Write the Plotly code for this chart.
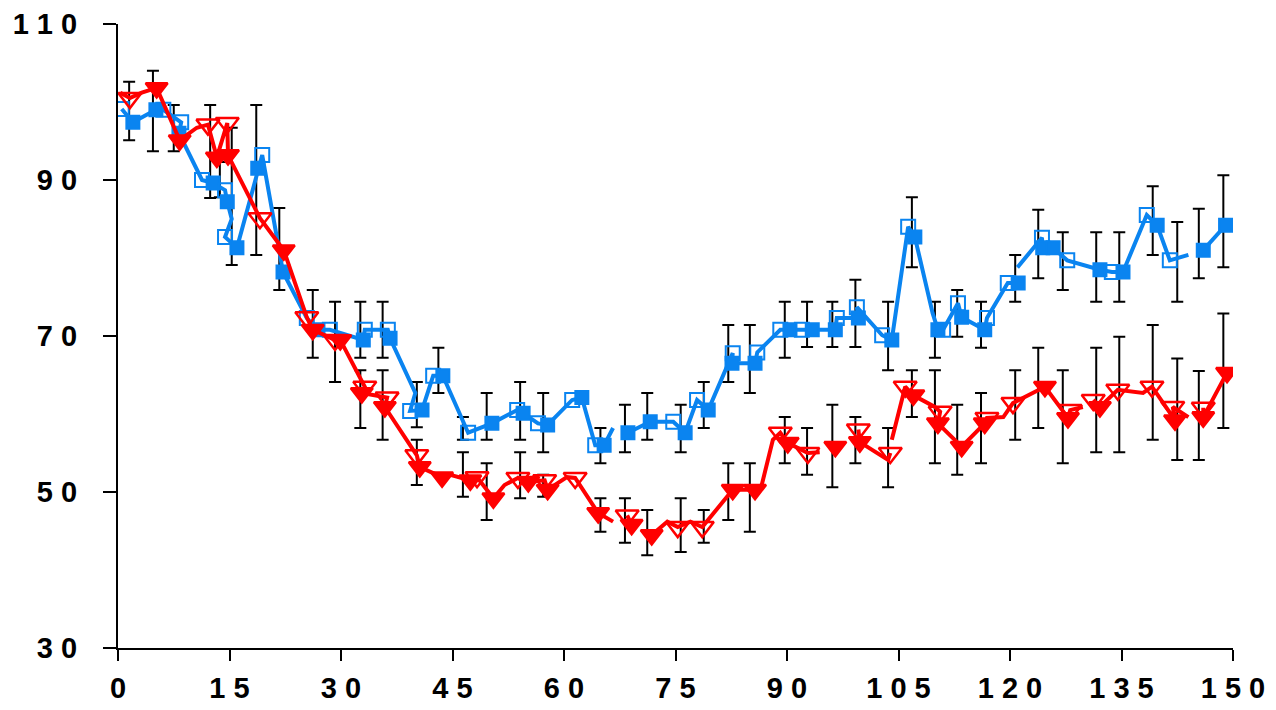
import plotly.graph_objects as go

# ---- Blue series (squares): x, y, kind (F=filled, O=open, ''=line vertex, None=gap)
blue_x = [0.5, 2.0, 5.1, 6.1, 8.5, 8.2, 11.3, 12.8, 14.4, 14.7, 15.3, 14.4, 16.0, 18.8, 19.4,
          22.2, 25.4, 26.9, 28.5, 33.0, 33.2, 36.3, 36.6, 40.0, 39.3, 40.9, 42.4, 43.7, 47.1,
          50.3, 53.7, 54.5, 56.5, 57.8, 61.1, 62.4, 64.2, 65.4, 66.6, None,
          68.6, 71.6, 74.7, 76.3, 77.9, 79.4, 82.7, 82.6, 85.7, 86.0, 89.1, 90.4, 92.0, 93.4,
          96.5, 96.7, 99.6, 99.4, 102.8, 104.1, 106.3, 107.2, 109.6, 110.3, 111.0, 113.0, 113.5,
          116.6, 116.9, 119.7, 121.1, None,
          121.0, 124.3, 124.4, 125.8, 127.7, 132.1, 133.7, 135.2, 138.4, 139.8, 141.5, 144.0, None,
          146.0, 149.0]
blue_y = [99.1, 97.4, 99.0, 99.0, 97.4, 96.0, 90.0, 89.6, 88.7, 87.2, 85.0, 82.7, 81.3, 91.5, 93.2,
          78.2, 72.3, 70.8, 70.8, 69.5, 70.8, 70.8, 69.7, 62.7, 60.4, 60.5, 64.9, 64.9, 57.6,
          58.8, 60.5, 60.1, 58.8, 58.6, 61.8, 62.1, 56.0, 56.0, 58.2, None,
          57.6, 59.0, 59.0, 57.6, 61.8, 60.5, 67.8, 66.5, 66.5, 67.9, 70.8, 70.8, 70.8, 70.8,
          70.8, 72.3, 72.3, 73.7, 70.1, 69.5, 84.0, 82.7, 72.9, 70.8, 70.8, 74.2, 72.4,
          70.8, 72.3, 76.8, 76.8, None,
          78.8, 82.6, 81.3, 81.3, 79.7, 78.5, 78.2, 78.2, 85.5, 84.2, 79.7, 80.4, None,
          81.0, 84.2]
blue_kind = ["O", "F", "F", "O", "O", "F", "O", "F", "O", "F", "", "O", "F", "F", "O",
             "F", "O", "F", "O", "F", "O", "O", "F", "", "O", "F", "O", "F", "O",
             "F", "O", "F", "O", "F", "O", "F", "O", "F", "", None,
             "F", "F", "O", "F", "O", "F", "O", "F", "F", "O", "O", "F", "O", "F",
             "F", "O", "F", "O", "O", "F", "O", "F", "", "F", "O", "O", "F",
             "F", "O", "O", "F", None,
             "", "O", "F", "F", "O", "F", "O", "F", "O", "F", "O", "", None,
             "F", "F"]

# ---- Red series (down triangles)
red_x = [0.3, 1.6, 3.2, 5.2, 8.3, 10.6, 12.1, 13.3, 14.7, 14.8, 19.1, 22.3, 25.4, 26.2, 29.2,
         29.9, 33.2, 32.8, 36.2, 35.9, 40.2, 40.6, 43.6, None,
         44.7, 47.4, 48.3, 50.5, 52.0, 53.8, 55.2, 57.4, 57.8, 60.4, 61.5, 64.6, 66.6, None,
         68.5, 69.1, None,
         71.8, 73.9, 75.3, 77.0, 78.6, 82.7, 85.7, 86.6, 88.1, 89.1, 90.1, 92.8, 94.4, None,
         96.5, None,
         99.6, 99.8, 103.6, 103.9, None,
         104.1, 105.2, 105.9, 107.0, 109.9, 110.6, 110.3, 113.5, 116.6, 116.9, 119.1, 120.4,
         124.7, 127.8, 128.1, 129.8, None,
         131.2, 132.1, 134.5, 137.9, 139.1, 142.2, 141.9, 144.0, None,
         146.0, 146.0, 149.2]
red_y = [101.2, 100.5, 101.2, 101.8, 95.1, 96.7, 97.1, 92.9, 97.3, 93.2, 85.1, 81.0, 72.4, 70.8, 69.5,
         69.5, 63.5, 62.7, 62.1, 60.9, 54.7, 53.2, 51.9, None,
         52.2, 51.5, 51.9, 49.2, 50.9, 51.8, 51.3, 51.5, 50.3, 51.9, 51.8, 47.3, 46.2, None,
         47.0, 45.8, None,
         44.5, 46.2, 45.5, 46.2, 45.5, 50.3, 50.3, 50.9, 56.7, 57.6, 56.3, 55.0, 55.1, None,
         55.8, None,
         58.0, 56.4, 54.1, 55.0, None,
         56.7, 60.9, 63.5, 62.4, 60.9, 60.3, 58.8, 55.8, 58.8, 59.5, 59.6, 61.4,
         63.5, 59.5, 60.5, 60.9, None,
         61.8, 60.9, 63.1, 62.7, 63.5, 59.2, 60.9, 59.6, None,
         60.8, 59.6, 65.3]
red_kind = ["", "O", "", "F", "F", "", "O", "F", "O", "F", "O", "F", "O", "F", "O",
            "F", "O", "F", "O", "F", "O", "F", "F", None,
            "", "F", "O", "F", "", "O", "F", "O", "F", "", "O", "F", "", None,
            "O", "F", None,
            "F", "", "O", "", "O", "F", "F", "", "", "O", "F", "O", "", None,
            "F", None,
            "O", "F", "", "O", None,
            "", "", "O", "F", "", "O", "F", "F", "F", "O", "", "O",
            "F", "F", "O", "", None,
            "O", "F", "O", "", "O", "F", "O", "", None,
            "O", "F", "F"]

# ---- Error bars (x, upper, lower)
blue_err_x = [1.5, 4.7, 7.5, 12.4, 13.7, 15.3, 18.6, 21.7, 26.2, 29.2, 32.6, 35.6, 40.2, 43.1,
              46.4, 49.6, 54.1, 57.2, 64.9, 68.2, 71.2, 75.7, 78.8, 82.1, 85.0, 89.7, 92.7,
              96.1, 99.2, 103.6, 106.8, 109.9, 112.9, 116.1, 120.7, 123.8, 127.1, 131.6,
              134.7, 139.2, 142.5, 145.4, 148.7]
blue_err_hi = [102.6, 104.0, 99.6, 99.6, 92.3, 96.7, 99.6, 86.4, 75.9, 74.4, 74.4, 74.4, 64.1, 68.5,
               59.6, 62.7, 64.1, 62.7, 58.2, 61.2, 62.7, 61.2, 64.1, 71.4, 71.4, 74.4, 74.4,
               74.4, 77.2, 74.4, 87.8, 74.4, 75.9, 74.4, 80.4, 86.2, 83.3, 83.3,
               83.3, 89.2, 84.6, 86.3, 90.6]
blue_err_lo = [95.1, 93.7, 93.7, 87.7, 87.8, 79.1, 80.4, 75.9, 67.2, 64.1, 67.2, 67.2, 58.3, 62.7,
               56.7, 56.7, 56.7, 55.1, 53.7, 55.1, 56.7, 55.1, 58.2, 64.1, 62.7, 67.2, 68.6,
               68.6, 68.6, 65.6, 78.8, 67.2, 69.9, 68.5, 74.4, 77.4, 75.9, 74.4,
               74.4, 80.4, 74.4, 77.4, 78.8]
red_err_x = [32.6, 35.6, 40.2, 46.4, 49.6, 54.1, 57.2, 64.9, 68.2, 71.2, 75.7, 78.8, 82.1, 85.0,
             89.7, 92.7, 96.1, 99.2, 103.6, 106.8, 109.9, 112.9, 116.1, 120.7, 123.8, 127.1,
             131.6, 134.7, 139.2, 142.5, 145.4, 148.7]
red_err_hi = [65.6, 65.6, 56.7, 55.1, 53.7, 55.1, 52.2, 49.2, 49.2, 47.7, 49.2, 47.7, 53.7, 53.7,
              59.6, 58.2, 61.2, 59.6, 58.2, 65.6, 65.6, 61.2, 62.7, 65.6, 68.5, 65.6,
              68.5, 69.9, 71.4, 67.1, 65.5, 72.9]
red_err_lo = [58.2, 56.7, 50.9, 49.4, 46.4, 49.2, 49.4, 44.9, 43.5, 41.9, 42.3, 43.5, 46.4, 44.9,
              53.7, 52.2, 50.6, 53.7, 50.6, 59.6, 53.7, 52.2, 53.7, 56.7, 58.2, 53.7,
              55.1, 55.1, 56.7, 54.1, 54.1, 58.2]

x_ticks = [0, 15, 30, 45, 60, 75, 90, 105, 120, 135, 150]
y_ticks = [30, 50, 70, 90, 110]

BLUE = "#0A84F0"
RED = "#FF0000"


def spaced(v):
    return " ".join(str(v))


def markers(kinds, filled_sym, open_sym, fsize, osize):
    syms, sizes = [], []
    for k in kinds:
        if k == "F":
            syms.append(filled_sym); sizes.append(fsize)
        elif k == "O":
            syms.append(open_sym); sizes.append(osize)
        else:
            syms.append(filled_sym); sizes.append(0)
    return syms, sizes


fig = go.Figure()

for ex, eh, el in [(blue_err_x, blue_err_hi, blue_err_lo), (red_err_x, red_err_hi, red_err_lo)]:
    mids = [(h + l) / 2 for h, l in zip(eh, el)]
    half = [(h - l) / 2 for h, l in zip(eh, el)]
    fig.add_trace(go.Scatter(
        x=ex, y=mids, mode="markers", marker=dict(size=0.1, opacity=0),
        error_y=dict(type="data", array=half, symmetric=True, color="black",
                     thickness=2, width=6),
        showlegend=False, hoverinfo="skip"))

bs, bz = markers(blue_kind, "square", "square-open", 13, 14)
fig.add_trace(go.Scatter(
    x=blue_x, y=blue_y, mode="lines+markers",
    line=dict(color=BLUE, width=4),
    marker=dict(symbol=bs, size=bz, color=BLUE, opacity=1, line=dict(width=2, color=BLUE)),
    showlegend=False))

rs, rz = markers(red_kind, "triangle-down", "triangle-down-open", 19, 20)
fig.add_trace(go.Scatter(
    x=red_x, y=red_y, mode="lines+markers",
    line=dict(color=RED, width=4),
    marker=dict(symbol=rs, size=rz, color=RED, opacity=1, line=dict(width=2.5, color=RED)),
    showlegend=False))

tickfont = dict(family="Liberation Sans, Arial, sans-serif", size=29, color="black", weight="bold")

# The page body has an 8px margin on the top/left, so the figure is sized to the remaining window.
fig.update_layout(
    width=1268, height=702,
    margin=dict(l=110, r=43, t=16, b=62),
    paper_bgcolor="white", plot_bgcolor="white",
    xaxis=dict(range=[0, 150], tickvals=x_ticks, ticktext=[spaced(v) for v in x_ticks],
               showgrid=False, zeroline=False, showline=True, linecolor="black", linewidth=2,
               ticks="outside", ticklen=11, tickwidth=2, tickcolor="black",
               tickfont=tickfont, ticklabelstandoff=2, automargin=False,
               ticklabeloverflow="allow"),
    yaxis=dict(range=[30, 110], tickvals=y_ticks, ticktext=[spaced(v) for v in y_ticks],
               showgrid=False, zeroline=False, showline=True, linecolor="black", linewidth=2,
               ticks="outside", ticklen=13, tickwidth=2, tickcolor="black",
               tickfont=tickfont, ticklabelstandoff=20, automargin=False,
               ticklabeloverflow="allow"),
)

fig.write_html("out.html")
